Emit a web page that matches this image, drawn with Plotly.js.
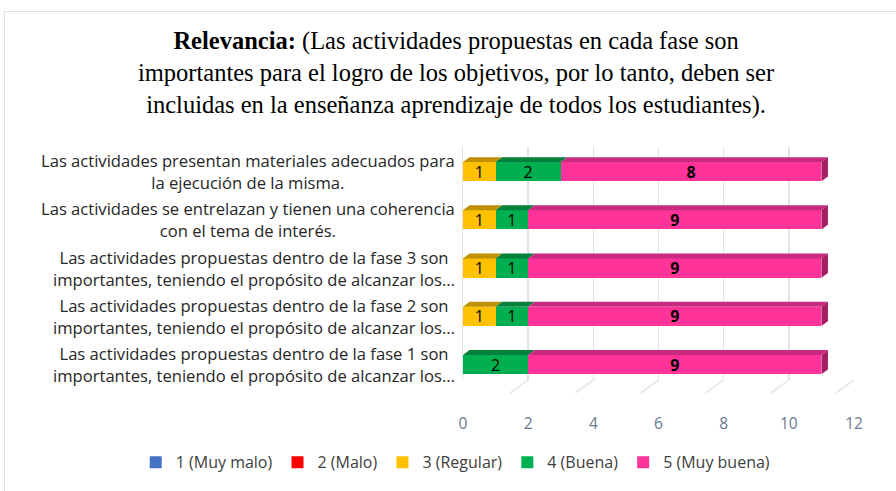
<!DOCTYPE html>
<html>
<head>
<meta charset="utf-8">
<script src="https://cdn.plot.ly/plotly-3.0.1.min.js"></script>
<style>
html,body{margin:0;padding:0;background:#fff;}
#frame{position:absolute;left:4px;top:11px;width:900px;height:490px;border-left:1.5px solid #dcdfe4;border-top:1.5px solid #dcdfe4;}
#chart{position:absolute;left:0;top:0;width:896px;height:491px;}
</style>
</head>
<body>
<div id="frame"></div>
<div id="chart"></div>
<script>
// Categories, bottom to top
const categories = [
  "Las actividades propuestas dentro de la fase 1 son<br>importantes, teniendo el propósito de alcanzar los...",
  "Las actividades propuestas dentro de la fase 2 son<br>importantes, teniendo el propósito de alcanzar los...",
  "Las actividades propuestas dentro de la fase 3 son<br>importantes, teniendo el propósito de alcanzar los...",
  "Las actividades se entrelazan y tienen una coherencia<br>con el tema de interés.",
  "Las actividades presentan materiales adecuados para<br>la ejecución de la misma."
];
const seriesNames = ["1 (Muy malo)", "2 (Malo)", "3 (Regular)", "4 (Buena)", "5 (Muy buena)"];
const muyMalo  = [0, 0, 0, 0, 0];
const malo     = [0, 0, 0, 0, 0];
const regular  = [0, 1, 1, 1, 1];
const buena    = [2, 1, 1, 1, 2];
const muyBuena = [9, 9, 9, 9, 8];
const xTicks = [0, 2, 4, 6, 8, 10, 12];

const allSeries = [muyMalo, malo, regular, buena, muyBuena];
const colors = ["#4472C4", "#FF0000", "#FFC000", "#00B050", "#FF3399"];
const topColors = ["#2F528F", "#B00000", "#BF9000", "#00803A", "#C82A7E"];
const sideColor = "#A81E64";
const barW = 0.4;
const idx = categories.map((c, i) => i);

const traces = allSeries.map((vals, s) => ({
  type: "bar",
  orientation: "h",
  name: seriesNames[s],
  y: idx,
  x: vals,
  width: barW,
  text: vals.map(v => v ? String(v) : ""),
  textposition: "inside",
  insidetextanchor: "middle",
  constraintext: "none",
  textangle: 0,
  textfont: {family: "Open Sans, sans-serif", size: 16, color: "#000", weight: s === 4 ? "bold" : "normal"},
  marker: {color: colors[s], line: {width: 0}},
  hoverinfo: "x+name"
}));

// 3D faces derived from the data
const dx = 0.2, dy = 0.1;
const shapes = [];
idx.forEach(i => {
  let start = 0;
  allSeries.forEach((vals, s) => {
    const v = vals[i];
    if (!v) return;
    const x0 = start, x1 = start + v;
    const yt = i + barW / 2;
    shapes.push({type: "path", xref: "x", yref: "y", layer: "above",
      path: `M${x0},${yt} L${x1},${yt} L${x1 + dx},${yt + dy} L${x0 + dx},${yt + dy} Z`,
      fillcolor: topColors[s], line: {width: 0}});
    start = x1;
  });
  const yb = i - barW / 2, yt = i + barW / 2;
  shapes.push({type: "path", xref: "x", yref: "y", layer: "above",
    path: `M${start},${yb} L${start},${yt} L${start + dx},${yt + dy} L${start + dx},${yb + dy} Z`,
    fillcolor: sideColor, line: {width: 0}});
});
// floor ticks
xTicks.forEach(t => {
  shapes.push({type: "line", xref: "x", yref: "paper", layer: "below",
    x0: t, y0: 0, x1: t - 0.55, y1: -0.055, line: {color: "#dfe3ea", width: 1.5}});
});

// Category labels as centered annotations
const annotations = categories.map((c, i) => ({
  xref: "paper", yref: "y", x: -0.016, y: i, xanchor: "right", yanchor: "middle",
  text: c, align: "center", showarrow: false,
  font: {family: "Open Sans, sans-serif", size: 16.6, color: "#262626"}
}));

const layout = {
  width: 896, height: 491,
  margin: {l: 463, r: 42, t: 147, b: 99},
  paper_bgcolor: "rgba(0,0,0,0)",
  plot_bgcolor: "rgba(0,0,0,0)",
  barmode: "stack",
  bargap: 0.6,
  title: {
    text: "<b>Relevancia:</b> (Las actividades propuestas en cada fase son<br>importantes para el logro de los objetivos, por lo tanto, deben ser<br>incluidas en la enseñanza aprendizaje de todos los estudiantes).",
    font: {family: "Liberation Serif, Times New Roman, serif", size: 24.5, color: "#000"},
    x: 0.509, xref: "container", xanchor: "center",
    y: 0.90, yref: "container", yanchor: "top"
  },
  xaxis: {
    range: [0, 12], tickvals: xTicks, ticktext: xTicks.map(String),
    showgrid: true, gridcolor: "#dfe3ea", gridwidth: 1.5,
    zeroline: false, showline: false,
    ticks: "", ticklabelstandoff: 32,
    tickfont: {family: "Open Sans, sans-serif", size: 15.5, color: "#6A7890"}
  },
  yaxis: {
    range: [-0.32, 4.51], showticklabels: false, showgrid: false, zeroline: false,
    showline: true, linecolor: "#dfe3ea", linewidth: 1.5, ticks: ""
  },
  legend: {
    orientation: "h", xref: "paper", yref: "paper",
    x: -0.837, xanchor: "left", y: -0.353, yanchor: "middle",
    font: {family: "Open Sans, sans-serif", size: 16, color: "#404040"},
    itemwidth: 30, traceorder: "normal"
  },
  shapes: shapes,
  annotations: annotations,
  showlegend: true
};

Plotly.newPlot("chart", traces, layout, {displayModeBar: false, staticPlot: true});
</script>
</body>
</html>
